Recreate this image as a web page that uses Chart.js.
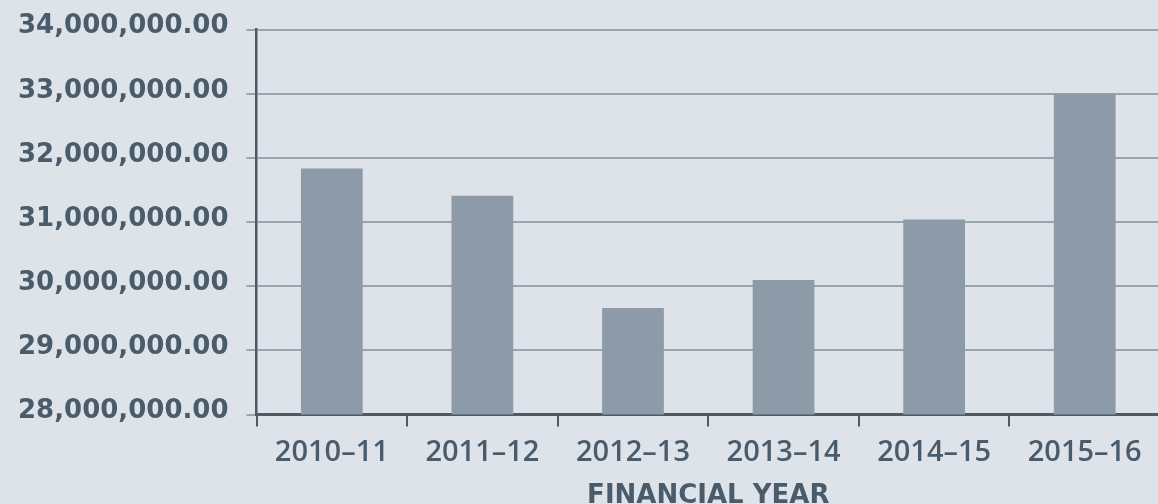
<!DOCTYPE html>
<html>
<head>
<meta charset="utf-8">
<script src="https://cdn.jsdelivr.net/npm/chart.js@4/dist/chart.umd.min.js"></script>
<style>
  html, body { margin: 0; padding: 0; background: #dee2e9; overflow: hidden; }
  #wrap { width: 1160px; height: 504px; position: relative; }
</style>
</head>
<body>
<div id="wrap"><canvas id="chart"></canvas></div>
<script>
/* Dane wykresu */
var years = ['2010–11', '2011–12', '2012–13', '2013–14', '2014–15', '2015–16'];
var amounts = [31835000, 31410000, 29660000, 30100000, 31040000, 33000000];
var yMin = 28000000;
var yMax = 34000000;
var yStep = 1000000;

var textColor = '#4a5c6b';
var axisColor = '#4a5a68';
var gridColor = '#97a5b0';

var ctx = document.getElementById('chart');

var chart = new Chart(ctx, {
    type: 'bar',
    data: {
        labels: years,
        datasets: [
            {
                label: 'Amount',
                data: amounts,
                backgroundColor: '#8c9ba7',
                borderWidth: 0,
                categoryPercentage: 1,
                barPercentage: 0.41
            }
        ]
    },
    options: {
        responsive: true,
        maintainAspectRatio: false,
        animation: false,
        layout: {
            padding: { left: 0, right: 0, top: 19, bottom: 0 }
        },
        plugins: {
            legend: { display: false },
            tooltip: { enabled: false }
        },
        scales: {
            x: {
                offset: true,
                grid: {
                    offset: true,
                    drawOnChartArea: false,
                    drawTicks: true,
                    tickLength: 12,
                    color: axisColor,
                    lineWidth: 2
                },
                border: { display: true, color: axisColor, width: 3 },
                ticks: {
                    color: textColor,
                    padding: 9,
                    font: { family: 'Open Sans', size: 29, weight: '600' }
                },
                title: {
                    display: true,
                    text: 'FINANCIAL YEAR',
                    color: textColor,
                    padding: { top: 9, bottom: 0 },
                    font: { family: 'DejaVu Sans', size: 26, weight: 'bold', lineHeight: 0.6 }
                }
            },
            y: {
                min: yMin,
                max: yMax,
                ticks: {
                    stepSize: yStep,
                    color: textColor,
                    padding: 18,
                    labelOffset: -3,
                    font: { family: 'DejaVu Sans', size: 26, weight: 'bold', lineHeight: 0.9 },
                    callback: function (v) {
                        return v.toLocaleString('en-US', { minimumFractionDigits: 2, maximumFractionDigits: 2 });
                    }
                },
                grid: {
                    color: gridColor,
                    lineWidth: 2,
                    tickLength: 10
                },
                border: { display: true, color: axisColor, width: 2.5 }
            }
        }
    }
});
</script>
</body>
</html>
